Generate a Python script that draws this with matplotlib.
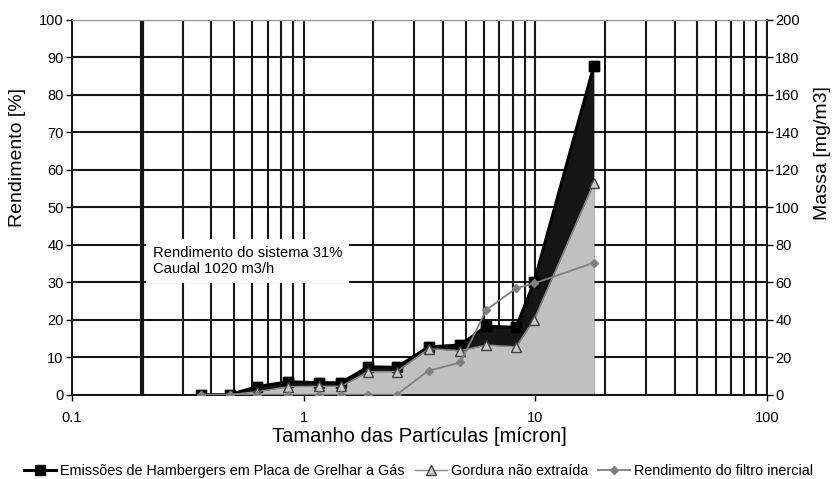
import numpy as np
import matplotlib
matplotlib.use("Agg")
import matplotlib.pyplot as plt
from matplotlib.ticker import FixedLocator, LogLocator, NullFormatter

plt.rcParams['font.family'] = ['Liberation Sans', 'DejaVu Sans']

# Particle size classes [micron]
tamanho = [0.36, 0.48, 0.63, 0.86, 1.16, 1.45, 1.90, 2.52, 3.46, 4.75, 6.14, 8.26, 9.87, 17.9]
# Mass concentration [mg/m3]
emissoes = [0, 0, 4.3, 6.9, 6.4, 6.4, 14.9, 14.6, 25.5, 26.5, 36.5, 36, 60, 175.5]
gordura = [0, 0, 1.6, 4.3, 4.5, 4.5, 12.3, 12.3, 24.5, 23.5, 26.5, 25.6, 40, 113]
# Filter efficiency [%]
rendimento = [0, 0, 0, 0, 0, 0, 0, 0, 6.4, 8.6, 22.6, 28.4, 29.7, 35.2]

x_ticks = [0.1, 1, 10, 100]
x_labels = ['0.1', '1', '10', '100']
massa_ticks = list(range(0, 201, 20))
rend_ticks = list(range(0, 101, 10))

fig = plt.figure(figsize=(8.34, 4.79), dpi=100)
ax_m = fig.add_axes([0.0863, 0.176, 0.8333, 0.7823])
ax_r = ax_m.twinx()

# mass axis (right) carries the grid and the area series
ax_m.set_xscale('log')
ax_m.set_xlim(0.1, 100)
ax_m.set_ylim(0, 200)
ax_m.xaxis.set_major_locator(FixedLocator(x_ticks))
ax_m.set_xticklabels(x_labels)
ax_m.xaxis.set_minor_locator(LogLocator(base=10, subs=np.arange(2, 10)))
ax_m.xaxis.set_minor_formatter(NullFormatter())
ax_m.set_yticks(massa_ticks)
ax_m.yaxis.tick_right()
ax_m.yaxis.set_label_position('right')
ax_m.set_axisbelow(True)
ax_m.grid(True, which='both', axis='both', color='#151515', lw=1.5)
ax_m.axvline(0.2, color='#151515', lw=3, zorder=0.6)

ax_m.tick_params(axis='x', which='major', length=4, width=1, pad=8, labelsize=10.5)
ax_m.tick_params(axis='x', which='minor', length=0)
ax_m.tick_params(axis='y', length=4, width=1, pad=2, labelsize=10.5)

ax_m.fill_between(tamanho, emissoes, color='#161616', lw=0, zorder=2)
l_emis, = ax_m.plot(tamanho, emissoes, color='black', lw=2.2, marker='s', ms=7,
                    label='Emissões de Hambergers em Placa de Grelhar a Gás', zorder=2)
ax_m.fill_between(tamanho, gordura, color='#c0c0c0', lw=0, zorder=3)
ax_m.plot(tamanho, emissoes, ls='none', marker='s', ms=7, color='black', zorder=4)
l_gord, = ax_m.plot(tamanho, gordura, color='#8a8a8a', lw=1, marker='^', ms=7,
                    mfc='#c8c8c8', mec='#404040', mew=1,
                    label='Gordura não extraída', zorder=5)

# efficiency axis (left) on top
ax_r.set_ylim(0, 100)
ax_r.set_yticks(rend_ticks)
ax_r.yaxis.tick_left()
ax_r.yaxis.set_label_position('left')
ax_r.tick_params(axis='y', length=4, width=1, pad=2, labelsize=10.5)
l_rend, = ax_r.plot(tamanho, rendimento, color='#7f7f7f', lw=1.3, marker='D', ms=4,
                    label='Rendimento do filtro inercial', zorder=6)

for a in (ax_m, ax_r):
    for s in ('left', 'right', 'bottom'):
        a.spines[s].set_color('#151515')
        a.spines[s].set_linewidth(1.4)
    a.spines['top'].set_color('#999999')

ax_r.set_ylabel('Rendimento [%]', fontsize=14)
ax_r.yaxis.set_label_coords(-0.066, 0.634)
ax_m.set_ylabel('Massa [mg/m3]', fontsize=14)
ax_m.yaxis.set_label_coords(1.068, 0.645)
ax_m.set_xlabel('Tamanho das Partículas [mícron]', fontsize=14.5)
ax_m.xaxis.set_label_coords(0.5, -0.086)

ax_m.text(0.1165, 0.357, 'Rendimento do sistema 31%\nCaudal 1020 m3/h',
          transform=ax_m.transAxes, ha='left', va='center', fontsize=10.6,
          linespacing=1.25, zorder=7,
          bbox=dict(boxstyle='square,pad=0.45', fc='white', ec='none'))

fig.legend(handles=[l_emis, l_gord, l_rend], loc='center', bbox_to_anchor=(0.502, 0.017),
           ncol=3, frameon=False, fontsize=10.4, handlelength=2.2, handletextpad=0.3,
           columnspacing=0.7, borderpad=0)

fig.savefig('out.png', dpi=100)
